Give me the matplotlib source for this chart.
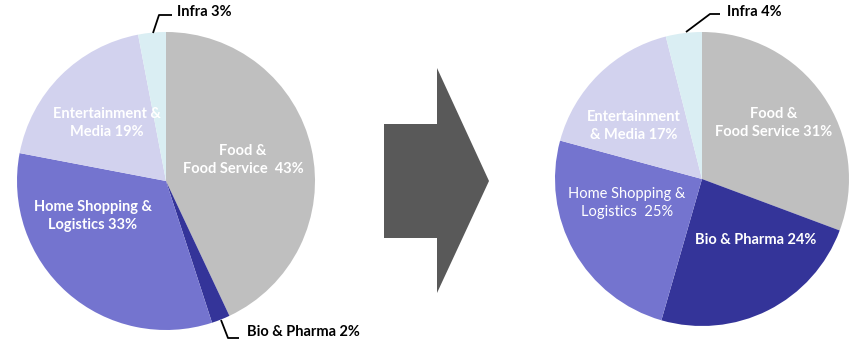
import matplotlib
matplotlib.use("Agg")
import matplotlib.pyplot as plt
from matplotlib.patches import Polygon

# data
segments = ["Food & Food Service", "Bio & Pharma", "Home Shopping & Logistics",
            "Entertainment & Media", "Infra"]
before = [43, 2, 33, 19, 3]
after = [31, 24, 25, 17, 4]
colors = ["#BFBFBF", "#343499", "#7474CF", "#D2D2EE", "#DAEEF3"]

W, H = 849, 340
plt.rcParams['font.family'] = ['Lato', 'DejaVu Sans']

fig = plt.figure(figsize=(W / 100, H / 100), dpi=100)
ax = fig.add_axes([0, 0, 1, 1])

def py(y):
    # pixel row (from top) -> axes y
    return H - y

# pies
ax.pie(before, colors=colors, startangle=90, counterclock=False,
       center=(166, py(181)), radius=149, frame=True)
ax.pie(after, colors=colors, startangle=90, counterclock=False,
       center=(702, py(179)), radius=147, frame=True)
ax.set_xlim(0, W)
ax.set_ylim(0, H)
ax.set_aspect('auto')
ax.axis('off')

# arrow
arrow = [(384, 124), (437, 124), (437, 68), (489, 181),
         (437, 293), (437, 238), (384, 238)]
ax.add_patch(Polygon([(x, py(y)) for x, y in arrow], closed=True,
                     facecolor="#595959", edgecolor="none"))

fs = 10.5
white = dict(color="white", fontsize=fs, ha="center", va="center",
             linespacing=1.4)

# left pie labels
ax.text(243, py(160), "Food &\nFood Service  43%", fontweight="bold", **white)
ax.text(93, py(216), "Home Shopping &\nLogistics 33%", fontweight="bold", **white)
ax.text(107, py(123), "Entertainment &\nMedia 19%", fontweight="bold", **white)

# right pie labels
ax.text(774, py(123), "Food &\nFood Service 31%", fontweight="bold", **white)
ax.text(756, py(240), "Bio & Pharma 24%", fontweight="bold", **white)
ax.text(627, py(203), "Home Shopping &\nLogistics  25%", **white)
ax.text(634, py(126), "Entertainment\n& Media 17%", fontweight="bold", **white)

# callouts
def callout(pts, tx, ty, s):
    ax.plot([p[0] for p in pts], [py(p[1]) for p in pts], color="black", lw=1.3,
            solid_capstyle="butt")
    ax.text(tx, py(ty), s, color="black", fontsize=fs, fontweight="bold",
            ha="left", va="center")

callout([(153, 33), (159, 15), (172, 15)], 177, 12, "Infra 3%")
callout([(221, 320), (228, 338), (239, 338)], 247, 332, "Bio & Pharma 2%")
callout([(686, 32), (710, 14), (720, 14)], 727, 12, "Infra 4%")

fig.savefig("out.png", dpi=100)
